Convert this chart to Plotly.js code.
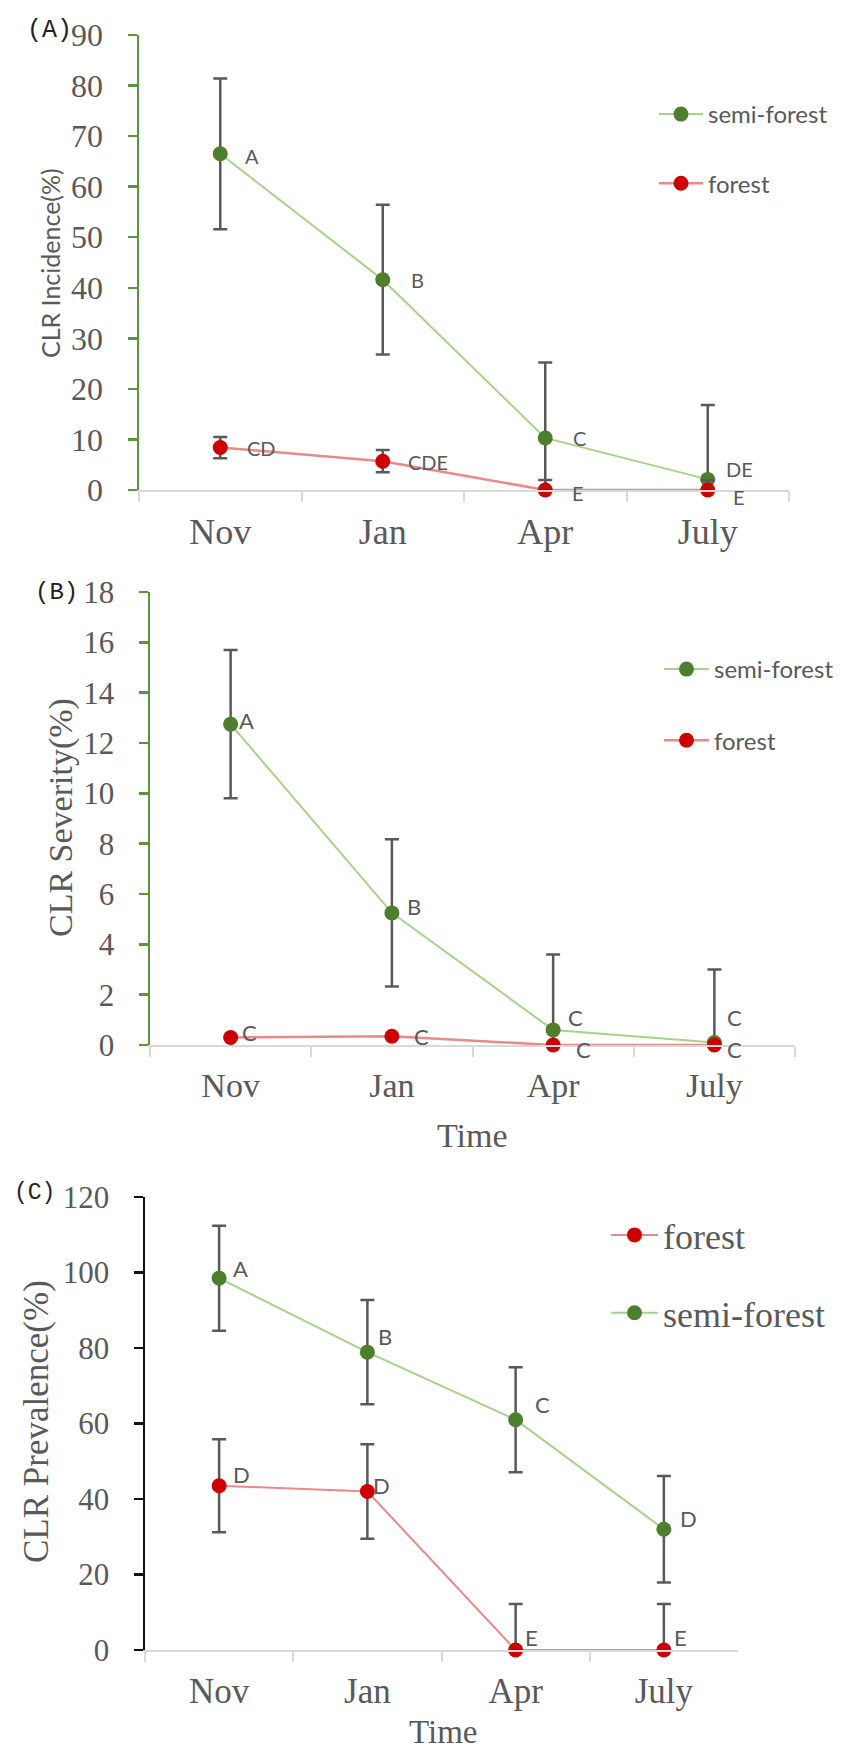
<!DOCTYPE html>
<html>
<head>
<meta charset="utf-8">
<script src="https://cdn.plot.ly/plotly-3.0.1.min.js"></script>
<style>html,body{margin:0;padding:0;background:#fff;}#chart{width:848px;height:1758px;}</style>
</head>
<body>
<div id="chart"></div>
<script>
// ---------------- DATA ----------------
const months = ['Nov', 'Jan', 'Apr', 'July'];

// (A) CLR Incidence (%)
const incSemi = [66.5, 41.6, 10.3, 2.1];
const incSemiErr = [14.9, 14.8, 14.9, 14.7];
const incForest = [8.4, 5.7, 0, 0];
const incForestErr = [2.1, 2.2, 2.0, 2.0];
const incSemiLetters = ['A', 'B', 'C', 'DE'];
const incForestLetters = ['CD', 'CDE', 'E', 'E'];

// (B) CLR Severity (%)
const sevSemi = [12.75, 5.25, 0.6, 0.1];
const sevSemiErr = [2.95, 2.93, 3.0, 2.9];
const sevForest = [0.3, 0.35, 0, 0];
const sevSemiLetters = ['A', 'B', 'C', 'C'];
const sevForestLetters = ['C', 'C', 'C', 'C'];

// (C) CLR Prevalence (%)
const prevSemi = [98.5, 78.9, 61.0, 32.0];
const prevSemiErr = [13.9, 13.8, 13.9, 14.1];
const prevForest = [43.5, 42.0, 0, 0];
const prevForestErr = [12.3, 12.5, 12.2, 12.2];
const prevSemiLetters = ['A', 'B', 'C', 'D'];
const prevForestLetters = ['D', 'D', 'E', 'E'];

// ---------------- STYLE ----------------
const W = 848, H = 1758;
const GREEN_M = '#4e7f2e', GREEN_L = '#a9d18e', RED_M = '#cc0000', RED_L = '#e88a8a';
const AXIS_GREEN = '#5a963c', GRAY_T = '#595959', GRAY_AX = '#d9d9d9', ERR = '#595959';
const SERIF = 'Liberation Serif, Times New Roman, serif';
const SANS = 'Lato, Open Sans, sans-serif';
const MONO = 'Liberation Mono, Courier New, monospace';

function hdom(a, b) { return [a / W, b / W]; }
function vdom(top, bottom) { return [1 - bottom / H, 1 - top / H]; }
function px(x) { return x / W; }
function py(y) { return 1 - y / H; }

// label offsets (px) [dx, dy-up] per point
const shiftA = { semi: [[24, -2], [27, 0], [27, 0], [17, 10]], forest: [[26, 0], [24, -1], [26, -3], [24, -7]] };
const shiftB = { semi: [[7, 4], [14, 6], [14, 12], [12, 25]], forest: [[10, 5], [21, 0], [22, -4], [12, -4]] };
const shiftC = { semi: [[13, 10], [10, 16], [18, 15], [15, 11]], forest: [[13, 11], [5, 6], [8, 13], [9, 13]] };

function errBars(vals, err) {
  return {
    type: 'data', symmetric: false, array: err,
    arrayminus: err.map((e, i) => Math.min(e, vals[i])),
    color: ERR, thickness: 2.5, width: 7, visible: true
  };
}

function series(name, vals, err, xa, ya, legend, isSemi, rank, lw) {
  const t = {
    type: 'scatter', mode: 'lines+markers', name: name,
    x: months, y: vals, xaxis: xa, yaxis: ya, legend: legend,
    legendgroup: legend + name, legendrank: rank, cliponaxis: false,
    line: { color: isSemi ? GREEN_L : RED_L, width: lw },
    marker: { color: isSemi ? GREEN_M : RED_M, size: 15 },
    hoverinfo: 'x+y'
  };
  if (err) t.error_y = errBars(vals, err);
  return t;
}

const traces = [
  series('semi-forest', incSemi, incSemiErr, 'x', 'y', 'legend', true, 1, 2),
  series('forest', incForest, incForestErr, 'x', 'y', 'legend', false, 2, 2.5),
  series('semi-forest', sevSemi, sevSemiErr, 'x2', 'y2', 'legend2', true, 1, 2),
  series('forest', sevForest, null, 'x2', 'y2', 'legend2', false, 2, 2.5),
  series('forest', prevForest, prevForestErr, 'x3', 'y3', 'legend3', false, 1, 2),
  series('semi-forest', prevSemi, prevSemiErr, 'x3', 'y3', 'legend3', true, 2, 2)
];

const annotations = [];
function letters(labels, vals, shifts, xr, yr, size) {
  labels.forEach((t, i) => {
    annotations.push({
      text: t, x: months[i], y: vals[i], xref: xr, yref: yr,
      xanchor: 'left', yanchor: 'middle', showarrow: false,
      xshift: shifts[i][0], yshift: shifts[i][1], borderpad: 0,
      font: { family: SANS, size: size, color: GRAY_T }
    });
  });
}
letters(incSemiLetters, incSemi, shiftA.semi, 'x', 'y', 20);
letters(incForestLetters, incForest, shiftA.forest, 'x', 'y', 20);
letters(sevSemiLetters, sevSemi, shiftB.semi, 'x2', 'y2', 22);
letters(sevForestLetters, sevForest, shiftB.forest, 'x2', 'y2', 22);
letters(prevSemiLetters, prevSemi, shiftC.semi, 'x3', 'y3', 22);
letters(prevForestLetters, prevForest, shiftC.forest, 'x3', 'y3', 22);

function paperText(text, x, y, font, angle) {
  annotations.push({
    text: text, x: px(x), y: py(y), xref: 'paper', yref: 'paper',
    xanchor: 'center', yanchor: 'middle', showarrow: false,
    textangle: angle || 0, font: font
  });
}
// panel tags
paperText('(A)', 49, 30, { family: MONO, size: 25, color: '#222' });
paperText('(B)', 56, 592, { family: MONO, size: 24, color: '#222' });
paperText('(C)', 34, 1193, { family: MONO, size: 23, color: '#222' });
// axis titles
paperText('CLR Incidence(%)', 50, 263, { family: SANS, size: 25, color: GRAY_T }, -90);
paperText('CLR Severity(%)', 61, 818, { family: SERIF, size: 34, color: GRAY_T }, -90);
paperText('CLR Prevalence(%)', 36, 1422, { family: SERIF, size: 35, color: GRAY_T }, -90);
paperText('Time', 472, 1135, { family: SERIF, size: 34, color: GRAY_T });
paperText('Time', 443, 1732, { family: SERIF, size: 33, color: GRAY_T });

function xAxis(domain, anchor, fs) {
  return {
    domain: domain, anchor: anchor, type: 'category', categoryorder: 'array', categoryarray: months,
    range: [-0.5, 3.5], showgrid: false, zeroline: false, showline: true, linecolor: GRAY_AX, linewidth: 2,
    ticks: 'outside', tickson: 'boundaries', ticklen: 10, tickwidth: 2, tickcolor: GRAY_AX,
    tickfont: { family: SERIF, size: fs, color: GRAY_T }, ticklabelstandoff: 9, fixedrange: true
  };
}
function yAxis(domain, anchor, range, dtick, color, fs) {
  return {
    domain: domain, anchor: anchor, range: range, dtick: dtick, tick0: 0, showgrid: false, zeroline: false,
    showline: true, linecolor: color, linewidth: 2.5, ticks: 'outside', ticklen: 9, tickwidth: 2.5, tickcolor: color,
    tickfont: { family: SERIF, size: fs, color: GRAY_T }, ticklabelstandoff: 18, fixedrange: true
  };
}
function legendAt(x, y, font, iw, gap) {
  return {
    x: px(x), y: py(y), xref: 'paper', yref: 'paper', xanchor: 'left', yanchor: 'top',
    bgcolor: 'rgba(0,0,0,0)', borderwidth: 0, font: font, itemwidth: iw,
    traceorder: 'grouped', tracegroupgap: gap, orientation: 'v'
  };
}

const layout = {
  width: W, height: H, margin: { l: 0, r: 0, t: 0, b: 0 },
  paper_bgcolor: '#fff', plot_bgcolor: '#fff', showlegend: true,
  xaxis: xAxis(hdom(139, 789), 'y', 36),
  yaxis: yAxis(vdom(35, 490), 'x', [0, 90], 10, AXIS_GREEN, 32),
  xaxis2: xAxis(hdom(150, 795), 'y2', 34),
  yaxis2: yAxis(vdom(592, 1045), 'x2', [0, 18], 2, AXIS_GREEN, 31),
  xaxis3: xAxis(hdom(145, 738), 'y3', 35),
  yaxis3: yAxis(vdom(1197, 1650), 'x3', [0, 120], 20, '#111', 31),
  legend: legendAt(654, 92, { family: SANS, size: 24, color: GRAY_T }, 44, 35),
  legend2: legendAt(659, 647, { family: SANS, size: 24, color: GRAY_T }, 45, 37),
  legend3: legendAt(606, 1205, { family: SERIF, size: 36, color: GRAY_T }, 47, 28),
  annotations: annotations
};

Plotly.newPlot('chart', traces, layout, { displayModeBar: false, staticPlot: true });
</script>
</body>
</html>
